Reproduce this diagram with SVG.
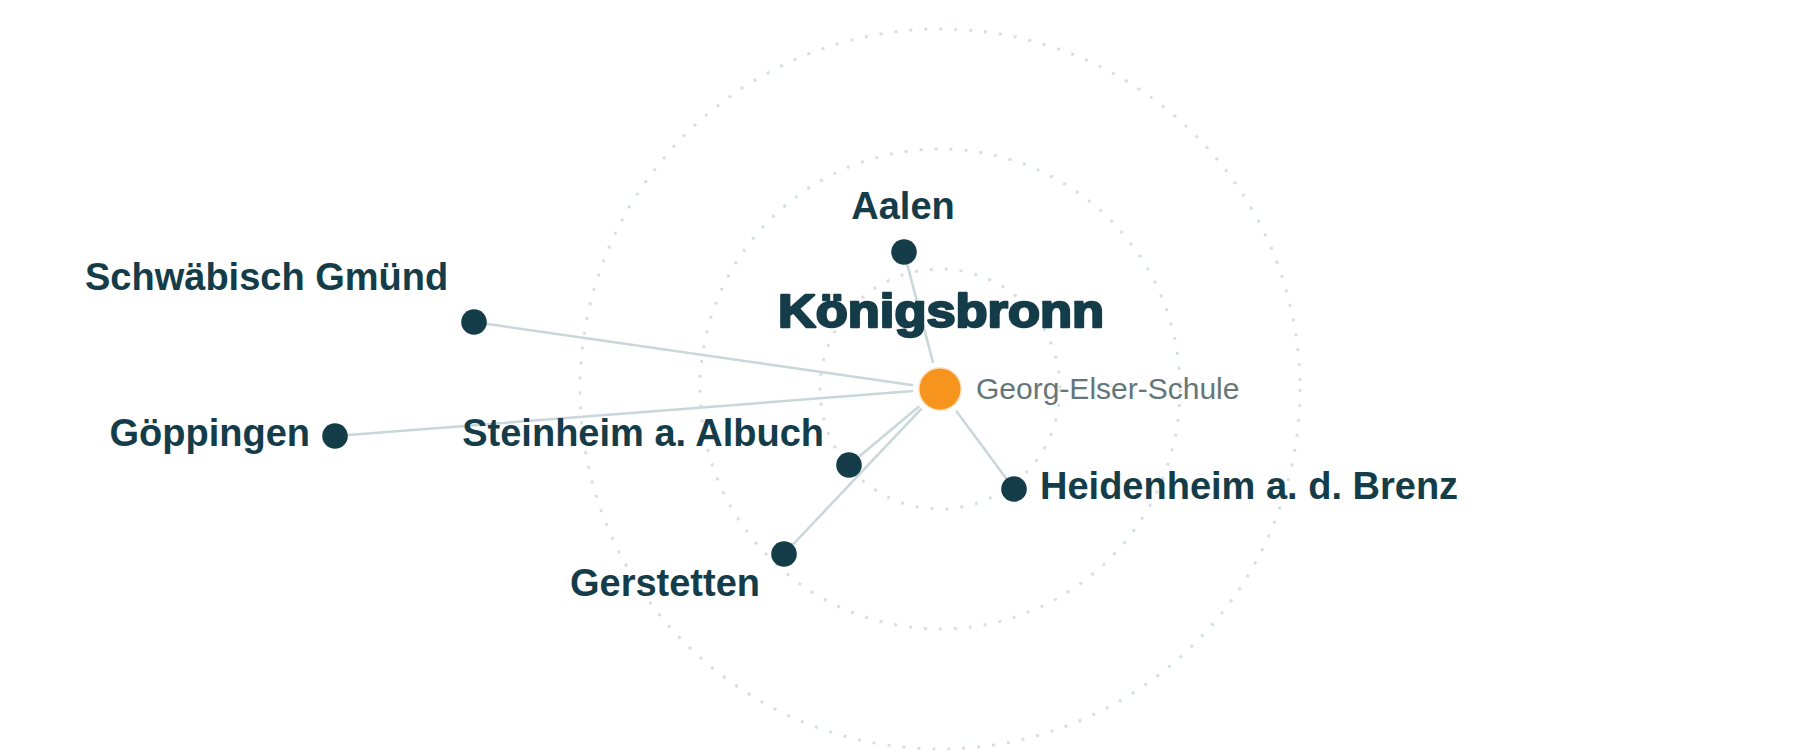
<svg xmlns="http://www.w3.org/2000/svg" width="1800" height="750" viewBox="0 0 1800 750">
<style>
.ring{fill:none;stroke:#d6e0e3;stroke-width:3;stroke-dasharray:3 12}
.link{stroke:#c9d6da;stroke-width:2.5;fill:none}
.dot{fill:#143c49}
.lbl{font-family:"Liberation Sans",Arial,sans-serif;font-weight:bold;font-size:38px;fill:#143c49}
.title{font-family:"Liberation Sans",Arial,sans-serif;font-weight:bold;font-size:47px;fill:#143c49;stroke:#143c49;stroke-width:2.4;stroke-linejoin:round}
.sub{font-family:"Liberation Sans",Arial,sans-serif;font-size:30px;fill:#657679}
</style>
<rect width="1800" height="750" fill="#ffffff"/>
<g id="rings">
<circle class="ring" cx="940" cy="389" r="120"/>
<circle class="ring" cx="940" cy="389" r="240"/>
<circle class="ring" cx="940" cy="389" r="360"/>
</g>
<g id="connectors">
<line class="link" x1="933.1" y1="362.9" x2="904" y2="252"/>
<line class="link" x1="913.3" y1="385.2" x2="474" y2="322"/>
<line class="link" x1="913.1" y1="391.1" x2="335" y2="436"/>
<line class="link" x1="919.3" y1="406.3" x2="849" y2="465"/>
<line class="link" x1="921.5" y1="408.6" x2="784" y2="554"/>
<line class="link" x1="956.1" y1="410.7" x2="1014" y2="489"/>
</g>
<g id="center">
<circle cx="940" cy="389" r="22" fill="#f7941d" opacity="0.25"/>
<circle cx="940" cy="389" r="20.5" fill="#f7941d"/>
<text class="title" x="778" y="327" textLength="326" lengthAdjust="spacingAndGlyphs">Königsbronn</text>
<text class="sub" x="976" y="399">Georg-Elser-Schule</text>
</g>
<g id="aalen">
<circle class="dot" cx="904" cy="252" r="12.8"/>
<text class="lbl" x="903" y="219" text-anchor="middle">Aalen</text>
</g>
<g id="schwaebisch-gmuend">
<circle class="dot" cx="474" cy="322" r="12.8"/>
<text class="lbl" x="85" y="290">Schwäbisch Gmünd</text>
</g>
<g id="goeppingen">
<circle class="dot" cx="335" cy="436" r="12.8"/>
<text class="lbl" x="310" y="446" text-anchor="end">Göppingen</text>
</g>
<g id="steinheim">
<circle class="dot" cx="849" cy="465" r="12.8"/>
<text class="lbl" x="824" y="446" text-anchor="end">Steinheim a. Albuch</text>
</g>
<g id="gerstetten">
<circle class="dot" cx="784" cy="554" r="12.8"/>
<text class="lbl" x="760" y="596" text-anchor="end">Gerstetten</text>
</g>
<g id="heidenheim">
<circle class="dot" cx="1014" cy="489" r="12.8"/>
<text class="lbl" x="1040" y="499">Heidenheim a. d. Brenz</text>
</g>
</svg>
